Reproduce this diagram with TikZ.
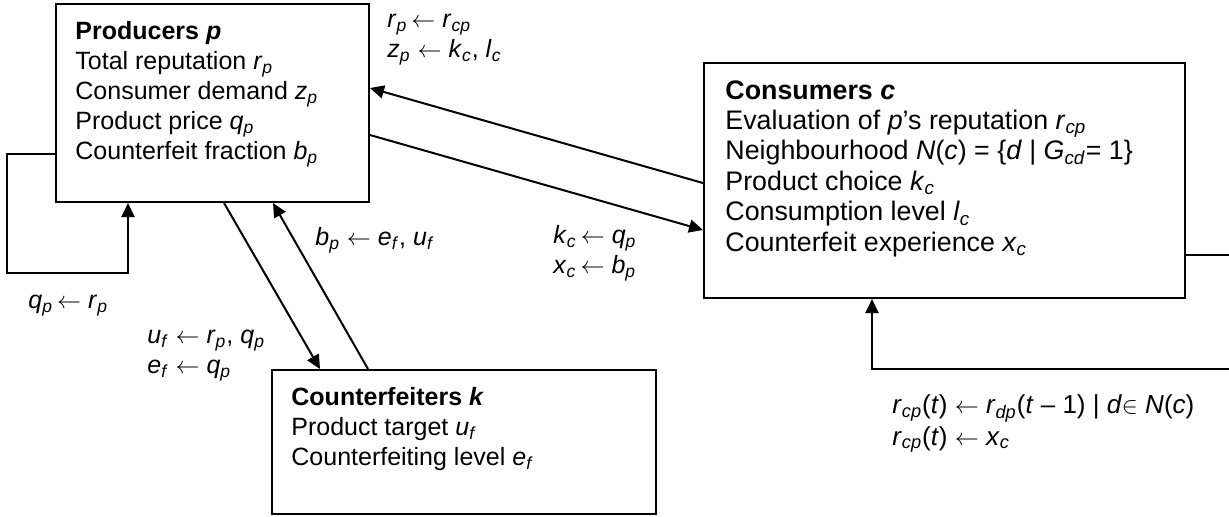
\documentclass[tikz,border=0pt]{standalone}
\usepackage{fontspec}
\setmainfont{Liberation Sans}
\usepackage{tikz}
\usetikzlibrary{calc,positioning,arrows.meta}

\newcommand{\vsub}[2]{\textit{#1}\textsubscript{\textit{#2}}}

\begin{document}
\begin{tikzpicture}[x=0.5pt,y=-0.5pt,
  box/.style={draw, line width=1pt, anchor=north west, inner sep=0pt},
  boxtext/.style={align=left, inner sep=0pt, font=\fontsize{12.5}{15}\selectfont},
  lbl/.style={anchor=north west, align=left, inner sep=0pt, font=\fontsize{12.5}{15}\selectfont},
  flow/.style={line width=1pt, -{Triangle[length=7pt,width=6.5pt]}}]

            \useasboundingbox (0,0) rectangle (1229,516);
            \clip (0,0) rectangle (1229,516);

            % the three agent boxes
            \node[box, minimum width=156.5pt, minimum height=99pt] (prod) at (55,3) {};
            \node[boxtext, below right=9pt and 10pt of prod.north west] (prodtxt)
                {\textbf{Producers \textit{p}}\\
                 Total reputation \vsub{r}{p}\\
                 Consumer demand \vsub{z}{p}\\
                 Product price \vsub{q}{p}\\
                 Counterfeit fraction \vsub{b}{p}};

            \node[box, minimum width=240.5pt, minimum height=117.5pt] (cons) at (703,62) {};
            \node[boxtext, font=\fontsize{13.4}{15.2}\selectfont, below right=9pt and 11pt of cons.north west] (constxt)
                {\textbf{Consumers \textit{c}}\\
                 Evaluation of \textit{p}'s reputation \vsub{r}{cp}\\
                 Neighbourhood \textit{N}(\textit{c}) = \{\textit{d} \textbar{} \vsub{G}{cd}= 1\}\\
                 Product choice \vsub{k}{c}\\
                 Consumption level \vsub{l}{c}\\
                 Counterfeit experience \vsub{x}{c}};

            \node[box, minimum width=192pt, minimum height=72pt] (count) at (271,369) {};
            \node[boxtext, below right=9pt and 10pt of count.north west] (counttxt)
                {\textbf{Counterfeiters \textit{k}}\\
                 Product target \vsub{u}{f}\\
                 Counterfeiting level \vsub{e}{f}};

            \coordinate (ploop) at (7,273);
            \coordinate (cloop) at (1250,369);

            % flows between the boxes
            \draw[flow] ($(cons.west)+(0,2.5)$) -- ($(prod.east)+(0,-15)$);
            \draw[flow] ($(prod.east)+(0,32)$) -- ($(cons.west)+(0,49.5)$);
            \draw[flow] ($(prod.south)+(11.5,0)$) -- ($(count.north)+(-144,0)$);
            \draw[flow] ($(count.north)+(-96,0)$) -- ($(prod.south)+(60.5,0)$);
            \draw[flow] ($(prod.west)+(0,51)$) -| (ploop) -| ($(prod.south)+(-84.5,0)$);
            \draw[flow] ($(cons.east)+(0,74.5)$) -| (cloop) -| ($(cons.south)+(-72.5,0)$);

            % update rules
            \node[lbl] (lblrp) at (387,6) {\strut\vsub{r}{p}\,$\leftarrow$ \vsub{r}{cp}\\
                \vsub{z}{p} $\leftarrow$ \vsub{k}{c}, \vsub{l}{c}};
            \node[lbl] (lblqp) at (28,287) {\strut\vsub{q}{p}\,$\leftarrow$ \vsub{r}{p}};
            \node[lbl] (lblbp) at (315,224) {\strut\vsub{b}{p} $\leftarrow$ \vsub{e}{f}, \vsub{u}{f}};
            \node[lbl] (lbluf) at (147,322) {\strut\vsub{u}{f} $\leftarrow$ \vsub{r}{p}, \vsub{q}{p}\\
                \vsub{e}{f} $\leftarrow$ \vsub{q}{p}};
            \node[lbl] (lblkc) at (553,222) {\strut\vsub{k}{c}\,$\leftarrow$ \vsub{q}{p}\\
                \vsub{x}{c}\,$\leftarrow$ \vsub{b}{p}};
            \node[lbl, font=\fontsize{13}{15.8}\selectfont] (lblrcp) at (892,391)
                {\strut\vsub{r}{cp}(\textit{t}) $\leftarrow$ \vsub{r}{dp}(\textit{t} – 1) \textbar{} \textit{d}$\in$ \textit{N}(\textit{c})\\
                \vsub{r}{cp}(\textit{t}) $\leftarrow$ \vsub{x}{c}};

          \end{tikzpicture}
\end{document}
